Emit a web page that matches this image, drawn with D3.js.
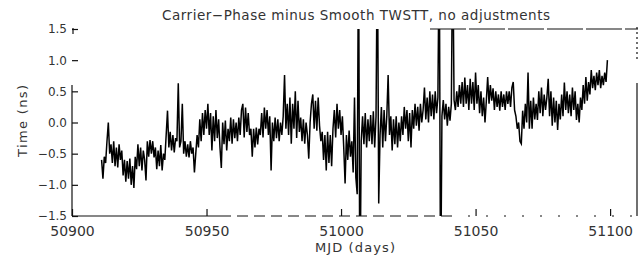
<!DOCTYPE html>
<html><head><meta charset="utf-8">
<script src="https://cdn.jsdelivr.net/npm/d3@7"></script>
<style>
html,body{margin:0;padding:0;background:#fff;}
svg{display:block;}
text{font-family:"DejaVu Sans",sans-serif;fill:#333;}
</style></head>
<body>
<svg id="chart" width="643" height="259"></svg>
<script>
// ---- data ----
const titleText = "Carrier\u2212Phase minus Smooth TWSTT, no adjustments";
const xTitle = "MJD (days)";
const yTitle = "Time (ns)";
const xTicks = [50900, 50950, 51000, 51050, 51100];
const xTickLabels = ["50900", "50950", "51000", "51050", "51100"];
const yTicks = [1.5, 1.0, 0.5, 0.0, -0.5, -1.0, -1.5];
const yTickLabels = ["1.5", "1.0", "0.5", "0.0", "\u22120.5", "\u22121.0", "\u22121.5"];
const mjdStart = 50911;   // first sample (MJD)
const mjdStep = 0.5;      // sampling interval (days)
const offsetNs = [
  -0.6,-0.9,-0.55,-0.65,-0.3,0.0,-0.5,-0.35,-0.65,-0.3,-0.7,-0.4,-0.72,-0.35,-0.6,-0.45,-0.85,-0.6,-0.95,-0.62,
  -0.9,-0.58,-1.0,-0.7,-1.05,-0.55,-0.75,-0.35,-0.7,-0.4,-0.77,-0.45,-0.6,-0.93,-0.3,-0.55,-0.28,-0.5,-0.3,-0.56,
  -0.4,-0.75,-0.45,-0.7,-0.36,-0.77,-0.5,-0.6,-0.2,0.19,-0.4,-0.15,-0.45,-0.2,-0.48,-0.25,-0.3,0.63,-0.4,-0.3,
  0.3,-0.5,-0.3,-0.55,-0.35,-0.56,-0.3,-0.5,-0.4,-0.8,-0.5,-0.2,-0.4,0.05,-0.3,0.15,-0.2,0.2,-0.1,0.3,
  -0.2,0.15,-0.45,0.1,-0.3,0.2,-0.25,0.05,-0.4,-0.73,0.0,-0.35,0.03,-0.45,-0.1,-0.3,0.08,-0.34,0.05,-0.25,
  0.0,-0.3,0.08,-0.2,0.2,0.3,-0.24,0.24,-0.15,0.15,-0.2,-0.1,-0.55,-0.1,-0.4,-0.08,-0.35,-0.1,-0.2,0.15,
  -0.24,0.24,-0.1,0.2,-0.2,0.1,-0.77,0.0,-0.3,0.08,-0.25,0.05,-0.3,0.0,-0.2,0.1,0.76,-0.1,0.3,-0.2,
  0.4,-0.34,0.3,-0.1,0.5,-0.25,0.35,-0.15,0.08,-0.3,0.05,-0.34,0.0,-0.2,-0.58,0.0,0.3,0.45,-0.1,0.35,
  -0.13,0.4,-0.05,-0.3,-0.15,-0.6,-0.2,-0.77,-0.15,-0.65,-0.2,-0.7,-0.1,0.2,-0.24,0.3,-0.1,0.2,-0.2,0.1,
  -0.4,-0.98,-0.2,-0.6,-0.13,-0.55,-0.3,-0.8,0.4,-0.88,-1.15,3,-3,-0.3,0.1,-0.35,0.15,-0.4,0.05,-0.3,
  0.12,-0.35,0.18,-0.4,0.1,3,-1.3,-0.2,0.25,-0.4,0.2,-0.3,0.1,0.76,-0.2,0.1,-0.45,0.05,-0.35,0.1,
  -0.4,0.0,-0.3,0.1,-0.2,0.25,-0.1,0.2,-0.3,0.15,-0.4,0.2,-0.1,0.3,-0.05,0.25,-0.13,0.3,0.0,0.2,
  0.56,0.05,0.4,0.0,0.5,0.1,0.45,0.05,0.5,0.15,0.4,3,-3,0.1,0.36,0.05,0.3,-0.05,0.25,0.03,
  0.3,3,0.36,0.2,0.5,0.25,0.6,0.3,0.65,0.25,0.72,0.3,0.6,0.2,0.7,0.3,0.65,0.2,0.8,0.3,
  0.6,0.15,0.5,0.1,0.4,0.0,0.35,0.73,0.3,0.6,0.35,0.55,0.2,0.5,0.25,0.45,0.19,0.5,0.25,0.45,
  0.2,0.5,0.3,0.5,0.25,0.56,0.65,0.2,0.1,-0.1,0.0,-0.3,-0.34,0.19,-0.1,0.3,0.0,0.8,-0.1,0.35,
  -0.1,0.4,0.05,0.3,0.04,0.5,0.15,0.56,0.1,0.45,0.2,0.4,0.7,0.1,0.5,-0.05,0.4,0.0,0.35,-0.12,
  0.3,0.05,0.45,0.1,0.64,0.2,0.5,0.15,0.45,0.1,0.56,0.2,0.5,0.04,0.3,0.0,0.4,0.2,0.6,0.3,
  0.73,0.35,0.65,0.45,0.84,0.55,0.75,0.52,0.8,0.6,0.84,0.55,0.75,0.6,0.8,0.65,1.0
];

// ---- layout ----
const svg = d3.select("#chart");
const L = 72, R = 637, T = 29, B = 216;
const x = d3.scaleLinear().domain([50900, 51110]).range([L, R]);
const y = d3.scaleLinear().domain([-1.5, 1.5]).range([B, T]);

const data = offsetNs.map((v, i) => ({ t: mjdStart + i * mjdStep, v }));

svg.append("defs").append("clipPath").attr("id", "clip")
  .append("rect").attr("x", L).attr("y", T).attr("width", R - L).attr("height", B - T);

// data line
svg.append("path")
  .datum(data)
  .attr("clip-path", "url(#clip)")
  .attr("fill", "none")
  .attr("stroke", "#000")
  .attr("stroke-width", 1.5)
  .attr("stroke-linejoin", "miter")
  .attr("d", d3.line().x(d => x(d.t)).y(d => y(d.v)));

// frame (broken, as in the scanned original)
const frame = svg.append("g").attr("stroke", "#111").attr("stroke-width", 1.2).attr("fill", "none");
frame.append("line").attr("x1", L).attr("x2", L).attr("y1", 85).attr("y2", B);
frame.append("line").attr("x1", L + 1).attr("x2", L + 1).attr("y1", T - 1).attr("y2", T + 5);
frame.append("line").attr("x1", L).attr("x2", 220).attr("y1", B).attr("y2", B);
frame.append("line").attr("x1", 220).attr("x2", 450).attr("y1", B).attr("y2", B).attr("stroke-dasharray", "11,6");
frame.append("line").attr("x1", 450).attr("x2", R + 2).attr("y1", B).attr("y2", B).attr("stroke-dasharray", "2,16");
frame.append("line").attr("x1", 430).attr("x2", R + 1).attr("y1", T).attr("y2", T).attr("stroke-dasharray", "36,3");
frame.append("line").attr("x1", R).attr("x2", R).attr("y1", 83).attr("y2", B);
frame.append("line").attr("x1", R).attr("x2", R).attr("y1", T - 2).attr("y2", 60).attr("stroke-dasharray", "2,3");

// axes via d3 axis generators (inward ticks)
const xAxis = d3.axisBottom(x).tickValues(xTicks).tickSize(-7).tickPadding(10)
  .tickFormat((d, i) => xTickLabels[i]);
const gx = svg.append("g").attr("transform", `translate(0,${B})`).call(xAxis);
gx.select(".domain").remove();
gx.selectAll(".tick line").attr("stroke", "#111").attr("stroke-width", 1.2);
gx.selectAll(".tick text").attr("font-size", 14).attr("font-family", "DejaVu Sans, sans-serif").attr("fill", "#333");

const yAxis = d3.axisLeft(y).tickValues(yTicks).tickSize(-6).tickPadding(5)
  .tickFormat((d, i) => yTickLabels[i]);
const gy = svg.append("g").attr("transform", `translate(${L},0)`).call(yAxis);
gy.select(".domain").remove();
gy.selectAll(".tick line").attr("stroke", "#111").attr("stroke-width", 1.2);
gy.selectAll(".tick text").attr("font-size", 12).attr("font-family", "DejaVu Sans, sans-serif").attr("fill", "#333");

// titles
svg.append("text").attr("x", 356).attr("y", 20).attr("text-anchor", "middle")
  .attr("font-size", 13.5).attr("textLength", 388).attr("lengthAdjust", "spacing").text(titleText);
svg.append("text").attr("x", 355).attr("y", 252).attr("text-anchor", "middle")
  .attr("font-size", 13).attr("textLength", 80).attr("lengthAdjust", "spacing").text(xTitle);
svg.append("text").attr("transform", "translate(27,121) rotate(-90)").attr("text-anchor", "middle")
  .attr("font-size", 13).attr("textLength", 72).attr("lengthAdjust", "spacing").text(yTitle);
</script>
</body></html>
